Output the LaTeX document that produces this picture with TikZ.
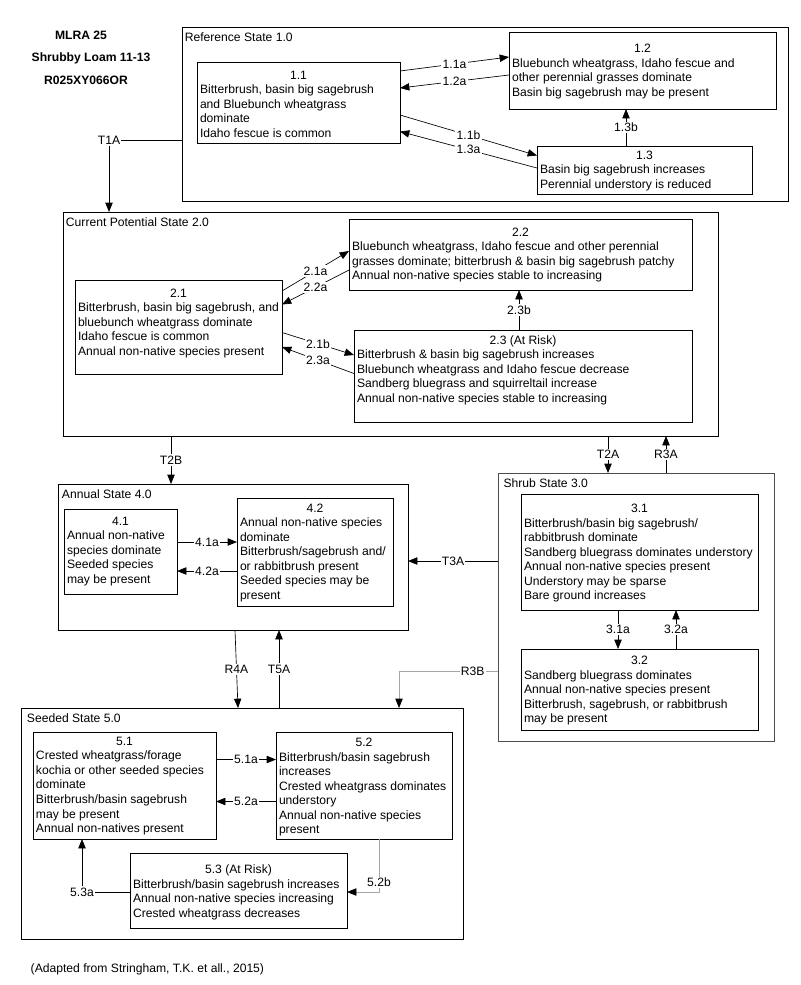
\documentclass[tikz,border=0pt]{standalone}
\usepackage{fontspec}
\setmainfont{Liberation Sans}
\usetikzlibrary{arrows.meta}

\newcommand{\diagFont}{\fontsize{9.1pt}{10.9pt}\selectfont}
% width, height, top gap (all in px), heading, lines
\newcommand{\phaseText}[5]{\parbox[c][\dimexpr #2pt*3/4\relax][t]{\dimexpr #1pt*3/4-4.5pt\relax}{\vspace*{\dimexpr #3pt*3/4\relax}\centering #4\par\raggedright #5\par}}

\tikzset{
    stateBox/.style={draw, anchor=north west, inner sep=0pt, outer sep=0pt, line width=0.6pt},
    stateName/.style={anchor=base west, inner sep=0pt},
    phaseBox/.style={draw, anchor=north west, inner xsep=2.25pt, inner ysep=0pt, outer sep=0pt, line width=0.6pt},
    pathLabel/.style={fill=white, inner sep=1pt},
    arr/.style={-{Triangle[length=7pt,width=5.5pt,color=black]}, line width=0.5pt},
    faint/.style={draw=gray!70}
}

\begin{document}
\begin{tikzpicture}[x=0.75pt, y=-0.75pt, every node/.style={font=\diagFont}]

    \useasboundingbox (0,0) rectangle (800,985);

    % site heading
    \node[anchor=base, font=\diagFont\bfseries] (mlra) at (81,39.3) {MLRA 25};
    \node[anchor=base, font=\diagFont\bfseries] (site) at (91,61.5) {Shrubby Loam 11-13};
    \node[anchor=base, font=\diagFont\bfseries] (code) at (86,84) {R025XY066OR};

    % states
    \node[stateBox, minimum width=454.5pt, minimum height=130.5pt] (s1) at (182,27) {};
    \node[stateName] (s1name) at (184.5,41.3) {Reference State 1.0};

    \node[stateBox, minimum width=491.25pt, minimum height=168pt] (s2) at (63,212) {};
    \node[stateName] (s2name) at (65.7,226.3) {Current Potential State 2.0};

    \node[stateBox, draw=gray!60!black, minimum width=207pt, minimum height=201pt] (s3) at (498,473) {};
    \node[stateName] (s3name) at (503.3,487) {Shrub State 3.0};

    \node[stateBox, minimum width=262.5pt, minimum height=109.5pt] (s4) at (58,484) {};
    \node[stateName] (s4name) at (61.7,498.6) {Annual State 4.0};

    \node[stateBox, minimum width=331.5pt, minimum height=173.25pt] (s5) at (21,708) {};
    \node[stateName] (s5name) at (26.7,722) {Seeded State 5.0};

    % community phases
    \node[phaseBox] (b11) at (197,62) {\phaseText{203}{81}{9}{1.1}{Bitterbrush, basin big sagebrush\\and Bluebunch wheatgrass\\dominate\\Idaho fescue is common}};
    \node[phaseBox] (b12) at (509,32) {\phaseText{267}{77}{12}{1.2}{Bluebunch wheatgrass, Idaho fescue and\\other perennial grasses dominate\\Basin big sagebrush may be present}};
    \node[phaseBox] (b13) at (537,146) {\phaseText{215}{48}{4.6}{1.3}{Basin big sagebrush increases\\Perennial understory is reduced}};

    \node[phaseBox] (b21) at (75,280) {\phaseText{207}{94}{8.9}{2.1}{Bitterbrush, basin big sagebrush, and\\bluebunch wheatgrass dominate\\Idaho fescue is common\\Annual non-native species present}};
    \node[phaseBox] (b22) at (349,219) {\phaseText{343}{71}{8.6}{2.2}{Bluebunch wheatgrass, Idaho fescue and other perennial\\grasses dominate; bitterbrush \& basin big sagebrush patchy\\Annual non-native species stable to increasing}};
    \node[phaseBox] (b23) at (354,330) {\phaseText{338}{92}{5.6}{2.3 (At Risk)}{Bitterbrush \& basin big sagebrush increases\\Bluebunch wheatgrass and Idaho fescue decrease\\Sandberg bluegrass and squirreltail increase\\Annual non-native species stable to increasing}};

    \node[phaseBox] (b31) at (521,494) {\phaseText{237}{116}{10}{3.1}{Bitterbrush/basin big sagebrush/\\rabbitbrush dominate\\Sandberg bluegrass dominates understory\\Annual non-native species present\\Understory may be sparse\\Bare ground increases}};
    \node[phaseBox] (b32) at (521,649) {\phaseText{237}{81}{7.3}{3.2}{Sandberg bluegrass dominates\\Annual non-native species present\\Bitterbrush, sagebrush, or rabbitbrush\\may be present}};

    \node[phaseBox] (b41) at (64,509) {\phaseText{113}{85}{8}{4.1}{Annual non-native\\species dominate\\Seeded species\\may be present}};
    \node[phaseBox] (b42) at (237,498) {\phaseText{156}{108}{5.6}{4.2}{Annual non-native species\\dominate\\Bitterbrush/sagebrush and/\\or rabbitbrush present\\Seeded species may be\\present}};

    \node[phaseBox] (b51) at (33,732) {\phaseText{183}{107}{5}{5.1}{Crested wheatgrass/forage\\kochia or other seeded species\\dominate\\Bitterbrush/basin sagebrush\\may be present\\Annual non-natives present}};
    \node[phaseBox] (b52) at (276,732) {\phaseText{176}{107}{6.3}{5.2}{Bitterbrush/basin sagebrush\\increases\\Crested wheatgrass dominates\\understory\\Annual non-native species\\present}};
    \node[phaseBox] (b53) at (130,853) {\phaseText{217}{75}{12}{5.3 (At Risk)}{Bitterbrush/basin sagebrush increases\\Annual non-native species increasing\\Crested wheatgrass decreases}};

    % pathways inside states
    \draw[arr] (b11.east |- 0,71) -- node[pathLabel]{1.1a} (b12.west |- 0,57);
    \draw[arr] (b12.west |- 0,75) -- node[pathLabel]{1.2a} (b11.east |- 0,88);
    \draw[arr] (b11.east |- 0,115) -- node[pathLabel]{1.1b} (b13.west |- 0,155.5);
    \draw[arr] (b13.west |- 0,168) -- node[pathLabel]{1.3a} (b11.east |- 0,131.5);
    \draw[arr] (b13.north -| 626,0) -- node[pathLabel]{1.3b} (b12.south -| 626,0);

    \draw[arr] (b21.east |- 0,291) -- node[pathLabel]{2.1a} (b22.west |- 0,251);
    \draw[arr] (b22.west |- 0,270) -- node[pathLabel]{2.2a} (b21.east |- 0,304.5);
    \draw[arr] (b21.east |- 0,332.5) -- node[pathLabel]{2.1b} (b23.west |- 0,355);
    \draw[arr] (b23.west |- 0,373.5) -- node[pathLabel]{2.3a} (b21.east |- 0,347);
    \draw[arr] (b23.north -| 519,0) -- node[pathLabel]{2.3b} (b22.south -| 519,0);

    \draw[arr] (b31.south -| 618,0) -- node[pathLabel]{3.1a} (b32.north -| 618,0);
    \draw[arr] (b32.north -| 676,0) -- node[pathLabel]{3.2a} (b31.south -| 676,0);

    \draw[arr] (b41.east |- 0,542) -- node[pathLabel]{4.1a} (b42.west |- 0,542);
    \draw[arr] (b42.west |- 0,571) -- node[pathLabel]{4.2a} (b41.east |- 0,571);

    \draw[arr] (b51.east |- 0,759.5) -- node[pathLabel]{5.1a} (b52.west |- 0,759.5);
    \draw[arr] (b52.west |- 0,801.5) -- node[pathLabel]{5.2a} (b51.east |- 0,801.5);
    \draw[arr, faint] (b52.south -| 379,0) |- node[pathLabel, pos=0.41]{5.2b} (b53.east |- 0,892);
    \draw[arr] (b53.west |- 0,892) -| node[pathLabel]{5.3a} (b51.south -| 82,0);

    % transitions and restorations
    \draw[arr] (s1.west |- 0,140) -| node[pathLabel]{T1A} (s2.north -| 109,0);
    \draw[arr] (s2.south -| 171,0) -- node[pathLabel]{T2B} (s4.north -| 171,0);
    \draw[arr] (s2.south -| 608,0) -- node[pathLabel]{T2A} (s3.north -| 608,0);
    \draw[arr] (s3.north -| 666,0) -- node[pathLabel]{R3A} (s2.south -| 666,0);
    \draw[arr] (s3.west |- 0,561) -- node[pathLabel]{T3A} (s4.east |- 0,561);
    \draw[arr, faint] (s3.west |- 0,671) -| node[pathLabel, pos=0.128]{R3B} (s5.north -| 399,0);
    \draw[arr] (s4.south -| 235,0) -- node[pathLabel]{R4A} (s5.north -| 238,0);
    \draw[arr] (s5.north -| 279,0) -- node[pathLabel]{T5A} (s4.south -| 279,0);

    \node[anchor=base west] (source) at (26,972) {(Adapted from Stringham, T.K. et all., 2015)};

\end{tikzpicture}
\end{document}
